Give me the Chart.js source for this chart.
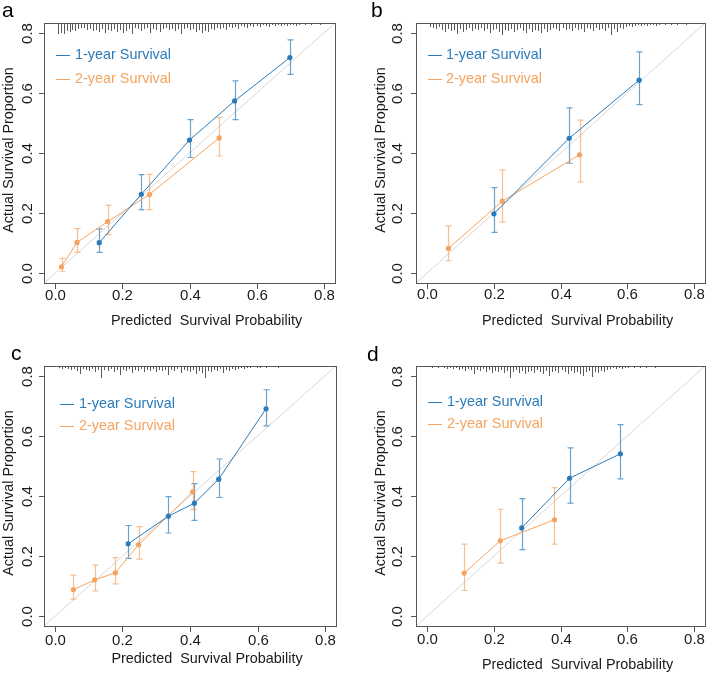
<!DOCTYPE html>
<html>
<head>
<meta charset="utf-8">
<script src="https://cdn.jsdelivr.net/npm/chart.js@4.4.0/dist/chart.umd.min.js"></script>
<style>
  html, body { margin: 0; padding: 0; background: #fff; }
  #fig { position: relative; width: 709px; height: 674px; overflow: hidden; }
  .panel { position: absolute; }
</style>
</head>
<body>
<div id="fig">
  <div class="panel" style="left:0;top:0;width:354px;height:335px"><canvas id="panelA"></canvas></div>
  <div class="panel" style="left:354px;top:0;width:355px;height:335px"><canvas id="panelB"></canvas></div>
  <div class="panel" style="left:0;top:335px;width:354px;height:339px"><canvas id="panelC"></canvas></div>
  <div class="panel" style="left:354px;top:335px;width:355px;height:339px"><canvas id="panelD"></canvas></div>
</div>
<script>
// Axis ticks and labels (shared by all panels)
const tickValues = [0, 0.2, 0.4, 0.6, 0.8];
const tickLabels = ["0.0", "0.2", "0.4", "0.6", "0.8"];
const seriesNames = ["1-year Survival", "2-year Survival"];
const xTitle = "Predicted  Survival Probability";
const yTitle = "Actual Survival Proportion";

// Panel a
const aOneX = [0.132, 0.257, 0.400, 0.534, 0.698];
const aOneY = [0.102, 0.263, 0.443, 0.573, 0.717];
const aOneLo = [0.070, 0.212, 0.385, 0.511, 0.661];
const aOneHi = [0.148, 0.328, 0.511, 0.640, 0.776];
const aTwoX = [0.020, 0.066, 0.157, 0.281, 0.488];
const aTwoY = [0.022, 0.103, 0.172, 0.262, 0.450];
const aTwoLo = [0.007, 0.070, 0.129, 0.212, 0.390];
const aTwoHi = [0.050, 0.149, 0.227, 0.329, 0.518];

// Panel b
const bOneX = [0.201, 0.426, 0.635];
const bOneY = [0.198, 0.449, 0.642];
const bOneLo = [0.136, 0.366, 0.561];
const bOneHi = [0.285, 0.550, 0.736];
const bTwoX = [0.065, 0.226, 0.457];
const bTwoY = [0.083, 0.240, 0.394];
const bTwoLo = [0.042, 0.170, 0.304];
const bTwoHi = [0.158, 0.344, 0.509];

// Panel c
const cOneX = [0.217, 0.336, 0.413, 0.485, 0.625];
const cOneY = [0.241, 0.333, 0.376, 0.456, 0.690];
const cOneLo = [0.193, 0.277, 0.319, 0.395, 0.633];
const cOneHi = [0.302, 0.398, 0.441, 0.523, 0.753];
const cTwoX = [0.055, 0.118, 0.179, 0.248, 0.408];
const cTwoY = [0.089, 0.121, 0.145, 0.238, 0.414];
const cTwoLo = [0.057, 0.085, 0.108, 0.190, 0.355];
const cTwoHi = [0.137, 0.170, 0.195, 0.298, 0.481];

// Panel d
const dOneX = [0.284, 0.427, 0.579];
const dOneY = [0.294, 0.459, 0.540];
const dOneLo = [0.222, 0.376, 0.457];
const dOneHi = [0.391, 0.560, 0.637];
const dTwoX = [0.112, 0.220, 0.382];
const dTwoY = [0.144, 0.251, 0.321];
const dTwoLo = [0.086, 0.177, 0.240];
const dTwoHi = [0.240, 0.356, 0.428];

// Rug of predicted probabilities along the top: [predicted, count]
const rugA = [[0.010,11],[0.018,10],[0.027,11],[0.035,8],[0.044,9],[0.052,7],[0.061,8],[0.069,6],[0.078,5],[0.087,5],
  [0.096,7],[0.105,6],[0.114,8],[0.123,7],[0.131,9],[0.140,6],[0.149,10],[0.158,7],[0.167,8],[0.176,6],
  [0.185,9],[0.194,7],[0.203,10],[0.212,8],[0.221,6],[0.230,11],[0.239,5],[0.248,6],[0.257,8],[0.266,6],
  [0.275,5],[0.284,10],[0.293,6],[0.302,7],[0.311,9],[0.320,6],[0.329,5],[0.338,7],[0.347,6],[0.356,8],
  [0.365,6],[0.374,11],[0.383,6],[0.392,5],[0.401,7],[0.410,6],[0.419,9],[0.428,7],[0.437,10],[0.446,8],
  [0.455,9],[0.464,6],[0.473,7],[0.482,5],[0.491,6],[0.500,5],[0.509,7],[0.518,4],[0.527,5],[0.536,4],
  [0.545,6],[0.554,3],[0.563,4],[0.572,5],[0.581,3],[0.590,4],[0.599,3],[0.608,4],[0.617,2],[0.626,3],
  [0.635,4],[0.644,2],[0.653,3],[0.662,2],[0.671,3],[0.680,2],[0.689,3],[0.698,2],[0.707,2],[0.716,3],
  [0.725,2],[0.734,1],[0.743,2],[0.752,1],[0.761,2],[0.770,1],[0.779,1],[0.788,2],[0.797,1],[0.806,1],
  [0.815,1],[0.824,1]];
const rugB = [[0.010,4],[0.019,5],[0.028,6],[0.037,4],[0.046,7],[0.055,9],[0.064,6],[0.073,8],[0.082,7],[0.091,11],
  [0.100,6],[0.109,9],[0.118,7],[0.127,5],[0.136,8],[0.145,6],[0.154,7],[0.163,5],[0.172,8],[0.181,6],
  [0.190,10],[0.199,7],[0.208,6],[0.217,9],[0.226,12],[0.235,7],[0.244,8],[0.253,6],[0.262,9],[0.271,7],
  [0.280,5],[0.289,8],[0.298,10],[0.307,6],[0.316,9],[0.325,7],[0.334,8],[0.343,10],[0.352,6],[0.361,9],
  [0.370,7],[0.379,5],[0.388,6],[0.397,8],[0.406,5],[0.415,7],[0.424,6],[0.433,8],[0.442,5],[0.451,7],
  [0.460,6],[0.469,9],[0.478,5],[0.487,6],[0.496,8],[0.505,5],[0.514,7],[0.523,6],[0.532,8],[0.541,5],
  [0.550,12],[0.559,6],[0.568,9],[0.577,5],[0.586,6],[0.595,4],[0.604,3],[0.613,4],[0.622,3],[0.631,2],
  [0.640,3],[0.649,2],[0.658,3],[0.667,2],[0.676,2],[0.685,3],[0.694,2],[0.703,1],[0.712,2],[0.721,1],
  [0.730,2],[0.739,1],[0.748,2],[0.757,1],[0.766,1],[0.775,2],[0.784,1],[0.793,1],[0.802,1],[0.811,1],
  [0.820,1]];
const rugC = [[0.012,2],[0.021,3],[0.030,2],[0.039,3],[0.048,4],[0.057,3],[0.066,5],[0.075,8],[0.084,3],[0.093,4],
  [0.102,5],[0.111,3],[0.120,6],[0.129,4],[0.138,12],[0.147,4],[0.156,5],[0.165,3],[0.174,6],[0.183,4],
  [0.192,9],[0.201,4],[0.210,5],[0.219,3],[0.228,7],[0.237,4],[0.246,5],[0.255,3],[0.264,6],[0.273,4],
  [0.282,5],[0.291,3],[0.300,6],[0.309,4],[0.318,5],[0.327,4],[0.336,9],[0.345,4],[0.354,5],[0.363,3],
  [0.372,7],[0.381,4],[0.390,5],[0.399,6],[0.408,4],[0.417,8],[0.426,5],[0.435,7],[0.444,12],[0.453,5],
  [0.462,6],[0.471,4],[0.480,5],[0.489,3],[0.498,7],[0.507,4],[0.516,5],[0.525,3],[0.534,4],[0.543,3],
  [0.552,2],[0.561,3],[0.570,2],[0.579,2],[0.588,1],[0.597,2],[0.606,2],[0.615,1],[0.624,2],[0.642,1],
  [0.660,2],[0.678,1],[0.696,1],[0.714,1],[0.732,1],[0.750,1],[0.768,1],[0.786,1],[0.804,1]];
const rugD = [[0.007,1],[0.016,2],[0.025,1],[0.034,2],[0.043,1],[0.052,2],[0.061,3],[0.070,2],[0.079,3],[0.088,2],
  [0.097,4],[0.106,3],[0.115,5],[0.124,3],[0.133,4],[0.142,8],[0.151,4],[0.160,5],[0.169,3],[0.178,6],
  [0.187,4],[0.196,7],[0.205,5],[0.214,6],[0.223,4],[0.232,7],[0.241,5],[0.250,12],[0.259,6],[0.268,4],
  [0.277,7],[0.286,5],[0.295,8],[0.304,6],[0.313,5],[0.322,7],[0.331,4],[0.340,6],[0.349,8],[0.358,5],
  [0.367,10],[0.376,6],[0.385,5],[0.394,7],[0.403,4],[0.412,6],[0.421,8],[0.430,5],[0.439,7],[0.448,6],
  [0.457,8],[0.466,10],[0.475,6],[0.484,5],[0.493,11],[0.502,6],[0.511,7],[0.520,5],[0.529,6],[0.538,4],
  [0.547,3],[0.556,2],[0.565,3],[0.574,2],[0.583,3],[0.592,2],[0.601,2],[0.610,1],[0.619,2],[0.628,1],
  [0.637,2],[0.646,1],[0.655,2],[0.664,1],[0.673,1],[0.682,2],[0.691,1],[0.700,1],[0.718,1],[0.736,1],
  [0.754,1],[0.772,1]];

const BLUE = "#2b7bb9";
const ORANGE = "#f4a460";
const BLUE_BAR = "rgba(43,123,185,0.7)";
const ORANGE_BAR = "rgba(244,164,96,0.7)";
const FONT = "'Liberation Sans', Arial, Helvetica, sans-serif";

// Draws the R-style frame, diagonal, rug, error bars, axes, legend and panel letter
const rmsPlot = {
  id: "rmsPlot",
  beforeDatasetsDraw(chart, args, opts) {
    const { ctx, chartArea: area, scales: { x, y } } = chart;
    ctx.save();
    ctx.beginPath();
    ctx.rect(area.left, area.top, area.right - area.left, area.bottom - area.top);
    ctx.clip();

    // ideal line
    ctx.strokeStyle = "#d8d8d8";
    ctx.lineWidth = 1;
    ctx.beginPath();
    ctx.moveTo(x.getPixelForValue(x.min), y.getPixelForValue(y.min));
    ctx.lineTo(x.getPixelForValue(x.max), y.getPixelForValue(y.max));
    ctx.stroke();

    // rug
    ctx.strokeStyle = "#5a5a5a";
    opts.rug.forEach(([p, n]) => {
      const px = Math.round(x.getPixelForValue(p)) + 0.5;
      ctx.beginPath();
      ctx.moveTo(px, area.top);
      ctx.lineTo(px, area.top + n);
      ctx.stroke();
    });

    // error bars
    ctx.lineWidth = 1.2;
    opts.bars.forEach(bar => {
      ctx.strokeStyle = bar.color;
      bar.x.forEach((v, i) => {
        const px = Math.round(x.getPixelForValue(v)) + 0.5;
        const lo = y.getPixelForValue(bar.lo[i]);
        const hi = y.getPixelForValue(bar.hi[i]);
        ctx.beginPath();
        ctx.moveTo(px, lo); ctx.lineTo(px, hi);
        ctx.moveTo(px - 3, lo); ctx.lineTo(px + 3, lo);
        ctx.moveTo(px - 3, hi); ctx.lineTo(px + 3, hi);
        ctx.stroke();
      });
    });
    ctx.restore();
  },
  afterDraw(chart, args, opts) {
    const { ctx, chartArea: area, scales: { x, y } } = chart;
    ctx.save();

    // frame
    ctx.strokeStyle = "#555";
    ctx.lineWidth = 1;
    ctx.strokeRect(Math.round(area.left) + 0.5, Math.round(area.top) + 0.5,
      Math.round(area.right - area.left), Math.round(area.bottom - area.top));

    // ticks and tick labels
    ctx.fillStyle = "#1a1a1a";
    ctx.font = "15px " + FONT;
    ctx.textAlign = "center";
    ctx.textBaseline = "middle";
    tickValues.forEach((v, i) => {
      const px = Math.round(x.getPixelForValue(v)) + 0.5;
      const py = Math.round(y.getPixelForValue(v)) + 0.5;
      ctx.beginPath();
      ctx.moveTo(px, area.bottom); ctx.lineTo(px, area.bottom + 6);
      ctx.moveTo(area.left, py); ctx.lineTo(area.left - 5, py);
      ctx.stroke();
      ctx.fillText(tickLabels[i], px, area.bottom + opts.xTickOff);
      ctx.save();
      ctx.translate(area.left - opts.yTickOff, py);
      ctx.rotate(-Math.PI / 2);
      ctx.fillText(tickLabels[i], 0, 0);
      ctx.restore();
    });

    // axis titles
    ctx.font = "14.4px " + FONT;
    ctx.fillText(xTitle, (area.left + area.right) / 2 + 17, area.bottom + opts.xTitleOff);
    ctx.save();
    ctx.translate(area.left - 35, (area.top + area.bottom) / 2 - 3);
    ctx.rotate(-Math.PI / 2);
    ctx.fillText(yTitle, 0, 0);
    ctx.restore();

    // legend
    ctx.textAlign = "left";
    [BLUE, ORANGE].forEach((c, i) => {
      const ly = Math.round(area.top + opts.legend.y[i]) + 0.5;
      ctx.strokeStyle = c;
      ctx.beginPath();
      ctx.moveTo(area.left + opts.legend.x, ly);
      ctx.lineTo(area.left + opts.legend.x + 14, ly);
      ctx.stroke();
      ctx.fillStyle = c;
      ctx.fillText(seriesNames[i], area.left + opts.legend.textX, ly);
    });

    // panel letter
    ctx.fillStyle = "#000";
    ctx.font = "21px " + FONT;
    ctx.textBaseline = "alphabetic";
    ctx.fillText(opts.letter, opts.letterPos[0], opts.letterPos[1]);
    ctx.restore();
  }
};

function points(xs, ys) {
  return xs.map((v, i) => ({ x: v, y: ys[i] }));
}

function createCalibrationChart(canvasId, cfg) {
  const ctx = document.getElementById(canvasId).getContext("2d");
  return new Chart(ctx, {
    type: "scatter",
    data: {
      datasets: [{
        label: seriesNames[0],
        data: points(cfg.one.x, cfg.one.y),
        showLine: true,
        borderColor: BLUE,
        backgroundColor: BLUE,
        borderWidth: 1,
        pointRadius: 2.6,
        pointBorderWidth: 0,
      }, {
        label: seriesNames[1],
        data: points(cfg.two.x, cfg.two.y),
        showLine: true,
        borderColor: ORANGE,
        backgroundColor: ORANGE,
        borderWidth: 1,
        pointRadius: 2.6,
        pointBorderWidth: 0,
      }],
    },
    options: {
      responsive: true,
      maintainAspectRatio: false,
      animation: false,
      layout: { padding: cfg.pad },
      scales: {
        x: { type: "linear", min: -0.032, max: 0.832, display: false },
        y: { type: "linear", min: -0.032, max: 0.832, display: false },
      },
      plugins: {
        legend: { display: false },
        tooltip: { enabled: false },
        rmsPlot: {
          letter: cfg.letter,
          letterPos: cfg.letterPos,
          rug: cfg.rug,
          bars: [
            { x: cfg.one.x, lo: cfg.one.lo, hi: cfg.one.hi, color: BLUE_BAR },
            { x: cfg.two.x, lo: cfg.two.lo, hi: cfg.two.hi, color: ORANGE_BAR },
          ],
          xTickOff: cfg.xTickOff,
          xTitleOff: cfg.xTitleOff,
          yTickOff: cfg.yTickOff,
          legend: cfg.legend,
        },
      },
    },
    plugins: [rmsPlot],
  });
}

createCalibrationChart("panelA", {
  letter: "a", letterPos: [2, 17],
  pad: { left: 44, right: 19, top: 23, bottom: 52 },
  one: { x: aOneX, y: aOneY, lo: aOneLo, hi: aOneHi },
  two: { x: aTwoX, y: aTwoY, lo: aTwoLo, hi: aTwoHi },
  rug: rugA, xTickOff: 13, xTitleOff: 38, yTickOff: 16,
  legend: { x: 12, textX: 31, y: [32, 56] },
});

createCalibrationChart("panelB", {
  letter: "b", letterPos: [17, 17],
  pad: { left: 62, right: 2, top: 23, bottom: 52 },
  one: { x: bOneX, y: bOneY, lo: bOneLo, hi: bOneHi },
  two: { x: bTwoX, y: bTwoY, lo: bTwoLo, hi: bTwoHi },
  rug: rugB, xTickOff: 12, xTitleOff: 38, yTickOff: 18,
  legend: { x: 12, textX: 30, y: [32, 56] },
});

createCalibrationChart("panelC", {
  letter: "c", letterPos: [11, 25],
  pad: { left: 44, right: 18, top: 31, bottom: 48 },
  one: { x: cOneX, y: cOneY, lo: cOneLo, hi: cOneHi },
  two: { x: cTwoX, y: cTwoY, lo: cTwoLo, hi: cTwoHi },
  rug: rugC, xTickOff: 15, xTitleOff: 33, yTickOff: 16,
  legend: { x: 16, textX: 35, y: [38, 60] },
});

createCalibrationChart("panelD", {
  letter: "d", letterPos: [13, 26],
  pad: { left: 62, right: 2, top: 31, bottom: 48 },
  one: { x: dOneX, y: dOneY, lo: dOneLo, hi: dOneHi },
  two: { x: dTwoX, y: dTwoY, lo: dTwoLo, hi: dTwoHi },
  rug: rugD, xTickOff: 14, xTitleOff: 39, yTickOff: 18,
  legend: { x: 12, textX: 31, y: [36, 58] },
});
</script>
</body>
</html>
